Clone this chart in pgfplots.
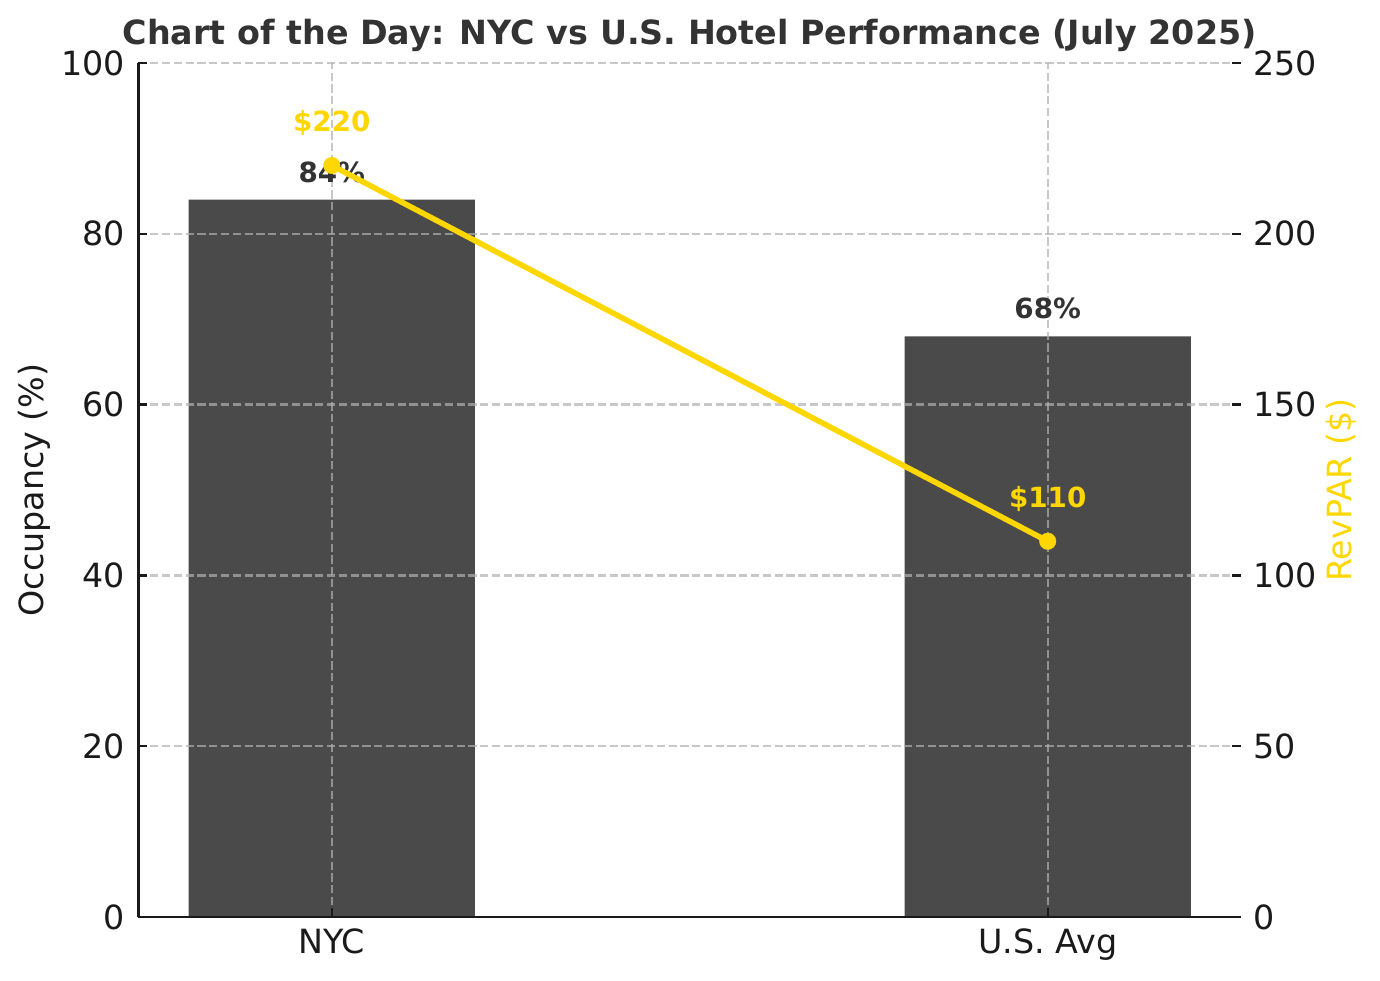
\documentclass[border=0pt]{standalone}
\usepackage{pgfplots}
\pgfplotsset{compat=1.18}
\usepackage{fontspec}
\setmainfont{DejaVu Sans}
\definecolor{barcol}{HTML}{4A4A4A}
\definecolor{gold}{HTML}{FFD700}
\definecolor{titlecol}{HTML}{333333}
\definecolor{tickcol}{HTML}{1A1A1A}
\definecolor{gridcol}{HTML}{B0B0B0}
\begin{document}
\begin{tikzpicture}
\useasboundingbox (-49.86pt,-22.68pt) rectangle (446.94pt,330.12pt);
\pgfplotsset{
  common/.style={
    width=396.9pt, height=307.44pt, scale only axis,
    xmin=-0.27, xmax=1.27, ymin=0,
    clip=false,
    tick align=inside,
    major tick length=3.2pt,
    tick style={tickcol, line width=0.8pt},
    /pgf/number format/assume math mode=true,
    ticklabel style={font=\fontsize{12}{14}\selectfont, text=tickcol, inner sep=0pt},
  }
}
% Occupancy bars (left axis)
\begin{axis}[common,
  ymax=100,
  axis on top,
  axis x line*=bottom, axis y line*=left,
  axis line style={tickcol, line width=1pt},
  xtick={0,1}, xticklabels={NYC, U.S. Avg},
  ytick={0,20,40,60,80,100},
  grid=major,
  major grid style={gridcol, draw opacity=0.7, line width=0.8pt, dash pattern=on 2.96pt off 1.28pt},
  yticklabel style={xshift=-4.6pt},
  xticklabel style={yshift=-4pt},
  ylabel={Occupancy (\%)},
  ylabel style={at={(axis description cs:-0.0948,0.5)}, anchor=center, inner sep=0pt, font=\fontsize{12}{14}\selectfont, text=tickcol},
  title={Chart of the Day: NYC vs U.S. Hotel Performance (July 2025)},
  title style={at={(axis description cs:0.5,1)}, anchor=base, yshift=0.5pt, inner sep=0pt, font=\bfseries\fontsize{12}{14}\selectfont, text=titlecol},
]
\addplot[ybar, bar width=0.4, fill=barcol, draw=none] coordinates {(0,84) (1,68)};
\end{axis}
% Bar value labels
\begin{axis}[common, ymax=100, hide axis]
\node[anchor=base, yshift=6.3pt, inner sep=0pt, text=titlecol, font=\bfseries\fontsize{10}{12}\selectfont] at (axis cs:0,84) {84\%};
\node[anchor=base, yshift=6.3pt, inner sep=0pt, text=titlecol, font=\bfseries\fontsize{10}{12}\selectfont] at (axis cs:1,68) {68\%};
\end{axis}
% RevPAR line (right axis)
\begin{axis}[common,
  ymax=250,
  hide x axis,
  axis y line*=right,
  y axis line style={draw=none},
  ytick={0,50,100,150,200,250},
  yticklabel style={xshift=4.3pt},
  ylabel={RevPAR (\$)},
  ylabel style={at={(axis description cs:1.0907,0.5)}, anchor=center, inner sep=0pt, font=\fontsize{12}{14}\selectfont, text=gold},
]
\addplot[gold, line width=2pt, mark=*, mark size=3pt, mark options={fill=gold, draw=gold, line width=0.1pt}] coordinates {(0,220) (1,110)};
\node[anchor=base, yshift=12.2pt, inner sep=0pt, text=gold, font=\bfseries\fontsize{10}{12}\selectfont] at (axis cs:0,220) {\$220};
\node[anchor=base, yshift=12.2pt, inner sep=0pt, text=gold, font=\bfseries\fontsize{10}{12}\selectfont] at (axis cs:1,110) {\$110};
\end{axis}
\end{tikzpicture}
\end{document}
